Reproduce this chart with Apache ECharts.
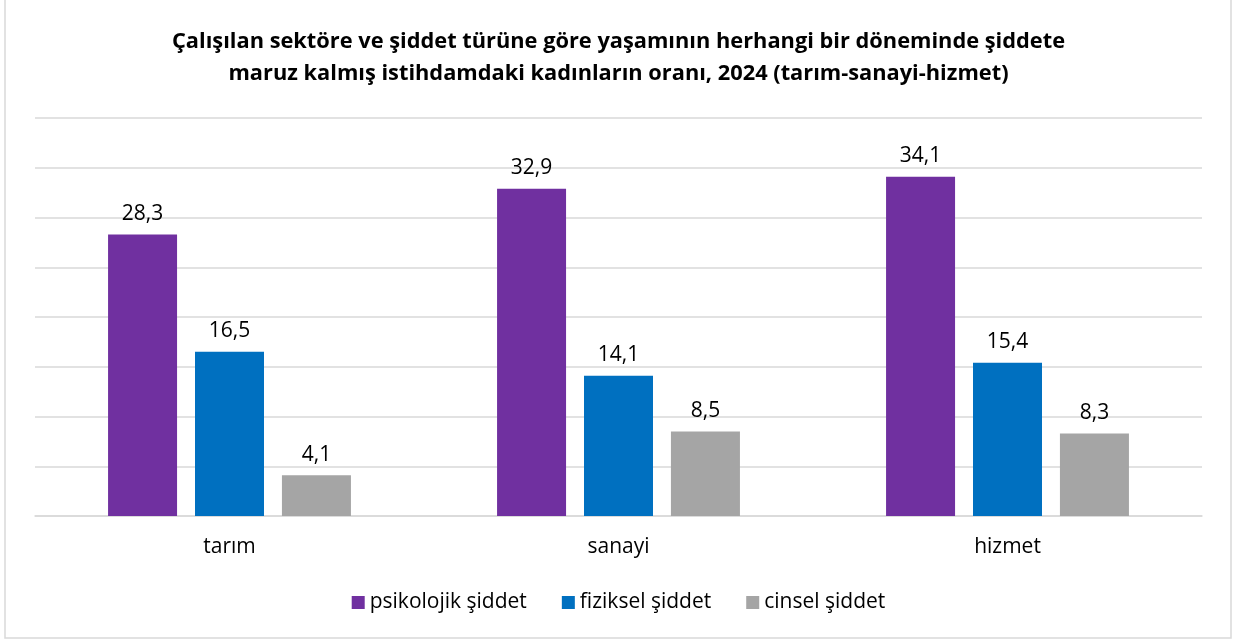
<!DOCTYPE html>
<html><head><meta charset="utf-8">
<script src="https://cdn.jsdelivr.net/npm/echarts@6/dist/echarts.min.js"></script>
<style>html,body{margin:0;padding:0;background:#fff}#c{width:1237px;height:641px}</style>
</head><body><div id="c"></div>
<script>
const categories = ['tarım', 'sanayi', 'hizmet'];
const seriesNames = ['psikolojik şiddet', 'fiziksel şiddet', 'cinsel şiddet'];
const psikolojik = [28.3, 32.9, 34.1];
const fiziksel = [16.5, 14.1, 15.4];
const cinsel = [4.1, 8.5, 8.3];
const colors = ['#7030A0', '#0070C0', '#A5A5A5'];
const FONT = '"Open Sans", sans-serif';
const chart = echarts.init(document.getElementById('c'));
const values = [psikolojik, fiziksel, cinsel];
chart.setOption({
  animation: false,
  graphic: [{type: 'rect', shape: {x: 5, y: -5, width: 1226, height: 643}, style: {fill: 'none', stroke: '#d9d9d9', lineWidth: 1.5}}],
  title: {
    text: 'Çalışılan sektöre ve şiddet türüne göre yaşamının herhangi bir döneminde şiddete\nmaruz kalmış istihdamdaki kadınların oranı, 2024 (tarım-sanayi-hizmet)',
    left: 'center', top: 21,
    textStyle: {fontFamily: FONT, fontWeight: 'bold', fontSize: 21.8, color: '#000', lineHeight: 32}
  },
  legend: {
    bottom: 23, left: 'center', itemWidth: 13, itemHeight: 13, itemGap: 35, icon: 'rect',
    textStyle: {fontFamily: FONT, fontSize: 21, color: '#000', padding: [0, 0, 0, 0]},
    data: seriesNames
  },
  grid: {left: 35, right: 35, top: 118, bottom: 125},
  xAxis: {
    type: 'category', data: categories,
    axisLine: {lineStyle: {color: '#d9d9d9', width: 1.5}},
    axisTick: {show: false},
    axisLabel: {fontFamily: FONT, fontSize: 21, color: '#000', margin: 21}
  },
  yAxis: {
    type: 'value', min: 0, max: 40, interval: 5,
    axisLabel: {show: false}, axisLine: {show: false}, axisTick: {show: false},
    splitLine: {lineStyle: {color: '#d9d9d9', width: 1.5}}
  },
  series: seriesNames.map((n, i) => ({
    name: n, type: 'bar', data: values[i], barWidth: 69, barGap: '26%',
    itemStyle: {color: colors[i]},
    label: {show: true, position: 'top', distance: 10, fontFamily: FONT, fontSize: 21, color: '#000',
      formatter: p => p.value.toFixed(1).replace('.', ',')}
  }))
});
</script></body></html>
